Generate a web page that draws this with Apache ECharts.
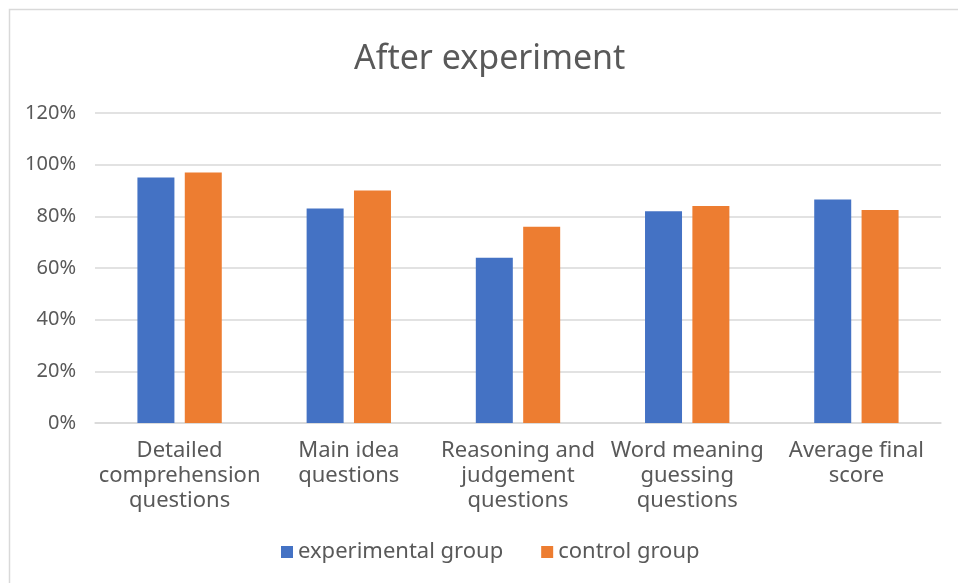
<!DOCTYPE html>
<html>
<head>
<meta charset="utf-8">
<script src="https://cdn.jsdelivr.net/npm/echarts@6/dist/echarts.min.js"></script>
<style>
html,body{margin:0;padding:0;background:#fff;}
#chart{width:958px;height:583px;}
</style>
</head>
<body>
<div id="chart"></div>
<script>
var categories = [
  "Detailed\ncomprehension\nquestions",
  "Main idea\nquestions",
  "Reasoning and\njudgement\nquestions",
  "Word meaning\nguessing\nquestions",
  "Average final\nscore"
];
var experimentalGroup = [0.95, 0.83, 0.64, 0.82, 0.865];
var controlGroup = [0.97, 0.90, 0.76, 0.84, 0.825];
var seriesNames = ["experimental group", "control group"];

var FONT = "'Noto Sans', sans-serif";
var chart = echarts.init(document.getElementById('chart'), null, {renderer: 'canvas'});
chart.setOption({
  backgroundColor: '#ffffff',
  animation: false,
  graphic: [{
    type: 'rect',
    shape: {x: 9.5, y: 9.5, width: 1000, height: 1000},
    style: {fill: 'none', stroke: '#d9d9d9', lineWidth: 1.5},
    silent: true
  }],
  title: {
    text: 'After experiment',
    left: 354,
    top: 39,
    padding: 0,
    textStyle: {fontFamily: FONT, fontSize: 34, fontWeight: 'normal', color: '#595959', lineHeight: 40}
  },
  legend: {
    data: seriesNames,
    bottom: 20,
    left: 281,
    padding: 0,
    icon: 'rect',
    itemWidth: 12,
    itemHeight: 12,
    itemGap: 38,
    textStyle: {fontFamily: FONT, fontSize: 22, color: '#595959'}
  },
  grid: {left: 95, right: 17, top: 113, bottom: 160, containLabel: false},
  xAxis: {
    type: 'category',
    data: categories,
    axisLine: {show: true, lineStyle: {color: '#d9d9d9', width: 1.5}},
    axisTick: {show: false},
    axisLabel: {
      interval: 0,
      margin: 15,
      fontFamily: FONT,
      fontSize: 22,
      lineHeight: 25,
      color: '#595959'
    }
  },
  yAxis: {
    type: 'value',
    min: 0,
    max: 1.2,
    interval: 0.2,
    axisLine: {show: false},
    axisTick: {show: false},
    splitLine: {lineStyle: {color: '#d9d9d9', width: 1.5}},
    axisLabel: {
      margin: 19,
      fontFamily: FONT,
      fontSize: 20,
      color: '#595959',
      formatter: function (v) { return Math.round(v * 100) + '%'; }
    }
  },
  series: [
    {
      name: seriesNames[0],
      type: 'bar',
      data: experimentalGroup,
      barWidth: 37,
      barGap: '28%',
      itemStyle: {color: '#4472C4'}
    },
    {
      name: seriesNames[1],
      type: 'bar',
      data: controlGroup,
      barWidth: 37,
      barGap: '28%',
      itemStyle: {color: '#ED7D31'}
    }
  ]
});
</script>
</body>
</html>
